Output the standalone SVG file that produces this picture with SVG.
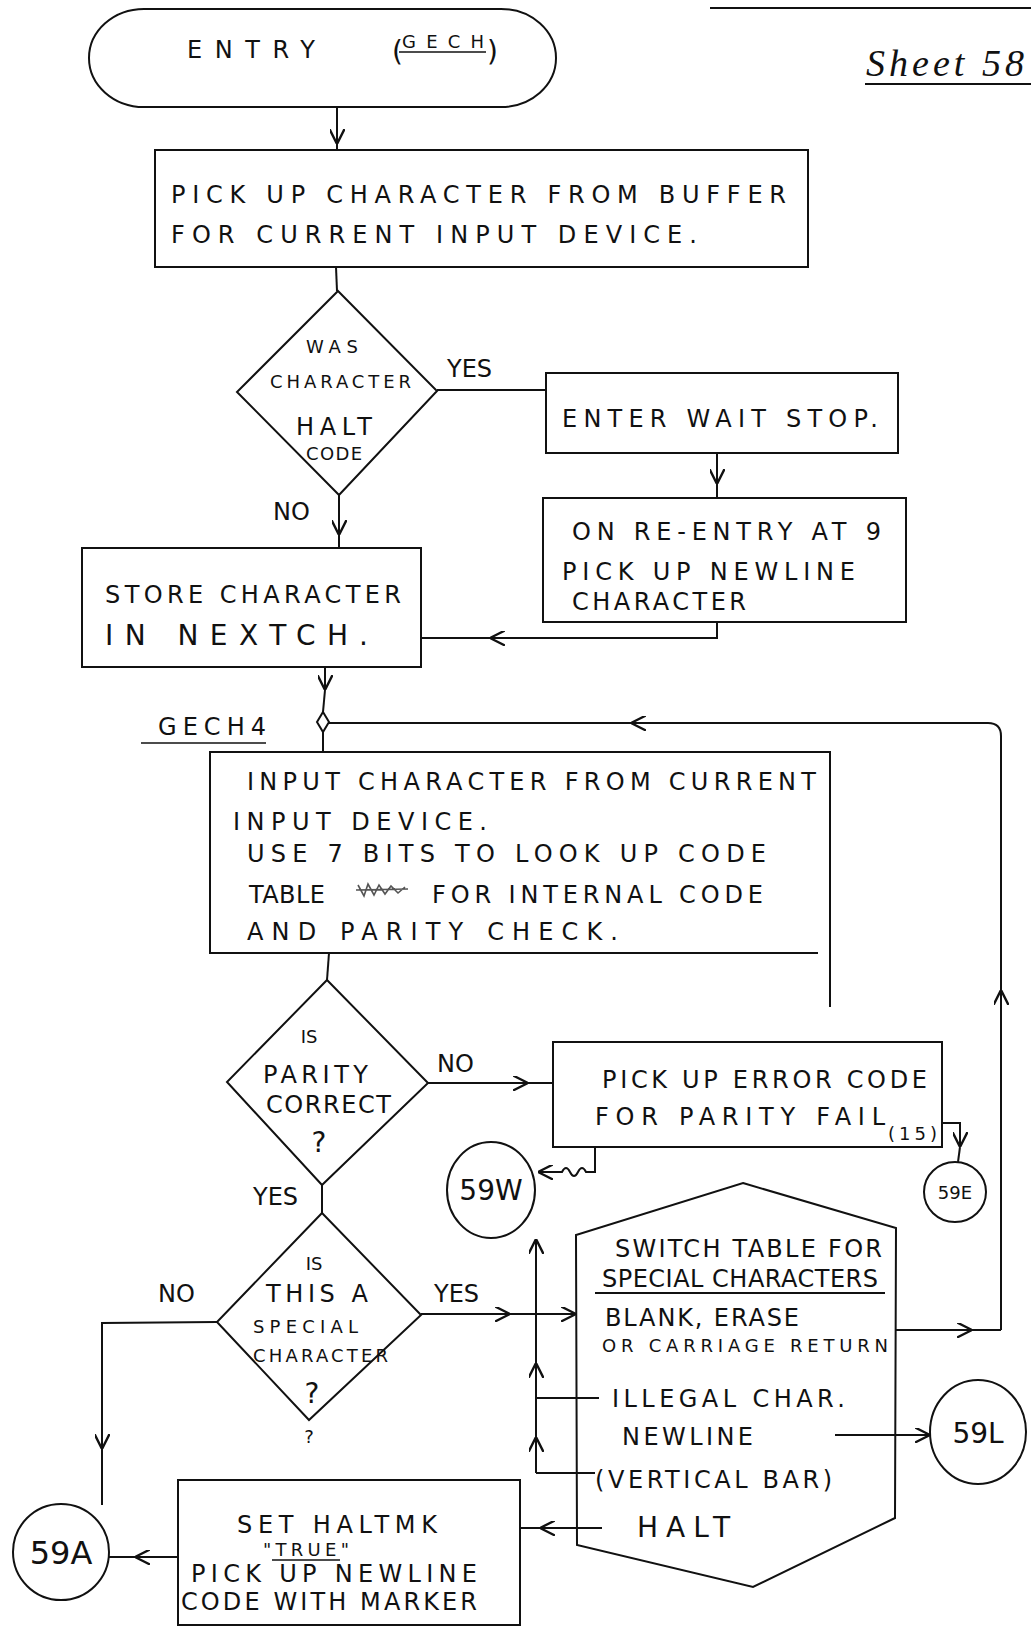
<svg xmlns="http://www.w3.org/2000/svg" width="1031" height="1631" viewBox="0 0 1031 1631">
<defs>
<marker id="arr" viewBox="0 0 10 10" refX="10" refY="5" markerWidth="15" markerHeight="15" markerUnits="userSpaceOnUse" orient="auto">
<path d="M0,0 L10,5 L0,10" fill="none" stroke="#111" stroke-width="1.6"/>
</marker>
</defs>
<style>
.s{fill:none;stroke:#111;stroke-width:2}
.c{fill:none;stroke:#111;stroke-width:2}
.a{marker-end:url(#arr)}
text{font-family:"DejaVu Sans","Liberation Sans",sans-serif;font-size:24px;fill:#111}
.sm{font-size:18px}
.lg{font-size:28px}
.cn{text-anchor:middle}
</style>
<rect width="1031" height="1631" fill="#fff"/>

<g id="sheet">
<line class="s" x1="710" y1="8" x2="1031" y2="8"/>
<text x="866" y="76" textLength="158" lengthAdjust="spacing" style="font-family:'Liberation Serif',serif;font-style:italic;font-size:38px">Sheet 58</text>
<line class="s" x1="865" y1="84" x2="1031" y2="84"/>
</g>

<g id="entry">
<rect class="s" x="89" y="9" width="467" height="98" rx="55" ry="49"/>
<text x="187" y="58" textLength="128" lengthAdjust="spacing">ENTRY</text>
<text x="392" y="61" class="lg">(</text>
<text x="402" y="48" class="sm" textLength="82" lengthAdjust="spacing">GECH</text>
<line class="s" x1="399" y1="52" x2="486" y2="52" style="stroke-width:1.5"/>
<text x="487" y="61" class="lg">)</text>
</g>

<g id="pickup">
<rect class="s" x="155" y="150" width="653" height="117"/>
<text x="171" y="203" textLength="615" lengthAdjust="spacing">PICK UP CHARACTER FROM BUFFER</text>
<text x="171" y="243" textLength="526" lengthAdjust="spacing">FOR CURRENT INPUT DEVICE.</text>
</g>

<g id="halt-decision">
<polygon class="s" points="338,291 437,391 339,495 237,392"/>
<text x="306" y="353" class="sm" textLength="52" lengthAdjust="spacing">WAS</text>
<text x="270" y="388" class="sm" textLength="141" lengthAdjust="spacing">CHARACTER</text>
<text x="296" y="435" textLength="76" lengthAdjust="spacing">HALT</text>
<text x="306" y="460" class="sm" textLength="56" lengthAdjust="spacing">CODE</text>
</g>

<g id="waitstop">
<rect class="s" x="546" y="373" width="352" height="80"/>
<text x="562" y="427" textLength="316" lengthAdjust="spacing">ENTER WAIT STOP.</text>
</g>

<g id="reentry">
<rect class="s" x="543" y="498" width="363" height="124"/>
<text x="572" y="540" textLength="309" lengthAdjust="spacing">ON RE-ENTRY AT 9</text>
<text x="562" y="580" textLength="293" lengthAdjust="spacing">PICK UP NEWLINE</text>
<text x="572" y="610" textLength="174" lengthAdjust="spacing">CHARACTER</text>
</g>

<g id="store">
<rect class="s" x="82" y="548" width="339" height="119"/>
<text x="105" y="603" textLength="296" lengthAdjust="spacing">STORE CHARACTER</text>
<text x="105" y="645" class="lg" textLength="263" lengthAdjust="spacing">IN NEXTCH.</text>
</g>

<g id="gech4">
<polygon class="s" points="323,712 329,722 323,732 317,722"/>
<text x="158" y="735" textLength="108" lengthAdjust="spacing">GECH4</text>
<line class="s" x1="141" y1="743" x2="266" y2="743" style="stroke-width:1.5"/>
</g>

<g id="input">
<path class="s" d="M818,953 L210,953 L210,752 L830,752 L830,1007"/>
<text x="247" y="790" textLength="569" lengthAdjust="spacing">INPUT CHARACTER FROM CURRENT</text>
<text x="233" y="830" textLength="254" lengthAdjust="spacing">INPUT DEVICE.</text>
<text x="247" y="862" textLength="519" lengthAdjust="spacing">USE 7 BITS TO LOOK UP CODE</text>
<text x="249" y="903" textLength="76" lengthAdjust="spacing">TABLE</text>
<path d="M358,885 L364,896 L368,884 L374,895 L379,885 L385,894 L391,886 L398,893 L405,887 M356,890 L408,889" fill="none" stroke="#555" stroke-width="1.6"/>
<text x="432" y="903" textLength="331" lengthAdjust="spacing">FOR INTERNAL CODE</text>
<text x="247" y="940" textLength="371" lengthAdjust="spacing">AND PARITY CHECK.</text>
</g>

<g id="parity-decision">
<polygon class="s" points="327,980 428,1083 322,1185 227,1082"/>
<text x="309" y="1043" class="cn sm">IS</text>
<text x="263" y="1083" textLength="105" lengthAdjust="spacing">PARITY</text>
<text x="266" y="1113" textLength="125" lengthAdjust="spacing">CORRECT</text>
<text x="319" y="1152" class="cn lg">?</text>
</g>

<g id="parityfail">
<rect class="s" x="553" y="1042" width="389" height="105"/>
<text x="602" y="1088" textLength="325" lengthAdjust="spacing">PICK UP ERROR CODE</text>
<text x="595" y="1125" textLength="290" lengthAdjust="spacing">FOR PARITY FAIL</text>
<text x="888" y="1140" class="sm" textLength="49" lengthAdjust="spacing">(15)</text>
</g>

<g id="c59E">
<ellipse class="s" cx="955" cy="1192" rx="31" ry="30"/>
<text x="955" y="1199" class="cn sm">59E</text>
</g>

<g id="c59W">
<ellipse class="s" cx="491" cy="1190" rx="44" ry="48"/>
<text x="491" y="1200" class="cn lg">59W</text>
</g>

<g id="special-decision">
<polygon class="s" points="322,1213 421,1315 309,1420 217,1322"/>
<text x="314" y="1270" class="cn sm">IS</text>
<text x="266" y="1302" textLength="102" lengthAdjust="spacing">THIS A</text>
<text x="253" y="1333" class="sm" textLength="105" lengthAdjust="spacing">SPECIAL</text>
<text x="253" y="1362" class="sm" textLength="135" lengthAdjust="spacing">CHARACTER</text>
<text x="312" y="1403" class="cn lg">?</text>
<text x="309" y="1443" class="cn sm">?</text>
</g>

<g id="switch">
<polygon class="s" points="743,1183 896,1228 895,1518 753,1587 577,1545 576,1235"/>
<line class="s" x1="595" y1="1293" x2="885" y2="1293"/>
<text x="615" y="1257" textLength="267" lengthAdjust="spacing">SWITCH TABLE FOR</text>
<text x="602" y="1287" textLength="276" lengthAdjust="spacing">SPECIAL CHARACTERS</text>
<text x="605" y="1326" textLength="194" lengthAdjust="spacing">BLANK, ERASE</text>
<text x="602" y="1352" class="sm" textLength="286" lengthAdjust="spacing">OR CARRIAGE RETURN</text>
<text x="612" y="1407" textLength="233" lengthAdjust="spacing">ILLEGAL CHAR.</text>
<text x="622" y="1445" textLength="131" lengthAdjust="spacing">NEWLINE</text>
<text x="595" y="1488" textLength="237" lengthAdjust="spacing">(VERTICAL BAR)</text>
<text x="637" y="1537" class="lg" textLength="93" lengthAdjust="spacing">HALT</text>
</g>

<g id="c59L">
<ellipse class="s" cx="978" cy="1432" rx="48" ry="52"/>
<text x="978" y="1443" class="cn lg">59L</text>
</g>

<g id="sethaltmk">
<rect class="s" x="178" y="1480" width="342" height="145"/>
<text x="237" y="1533" textLength="200" lengthAdjust="spacing">SET HALTMK</text>
<text x="263" y="1556" class="sm" textLength="86" lengthAdjust="spacing">"TRUE"</text>
<line class="s" x1="272" y1="1560" x2="340" y2="1560" style="stroke-width:1.5"/>
<text x="191" y="1582" textLength="286" lengthAdjust="spacing">PICK UP NEWLINE</text>
<text x="181" y="1610" textLength="296" lengthAdjust="spacing">CODE WITH MARKER</text>
</g>

<g id="c59A">
<ellipse class="s" cx="61" cy="1552" rx="48" ry="48"/>
<text x="61" y="1564" class="cn" style="font-size:32px">59A</text>
</g>

<g id="labels">
<text x="447" y="377">YES</text>
<text x="273" y="520">NO</text>
<text x="437" y="1072">NO</text>
<text x="253" y="1205">YES</text>
<text x="158" y="1302">NO</text>
<text x="434" y="1302">YES</text>
</g>

<g id="connectors">
<line class="c a" x1="337" y1="107" x2="337" y2="144"/>
<line class="c" x1="337" y1="144" x2="337" y2="150"/>
<line class="c" x1="336" y1="267" x2="337" y2="291"/>
<line class="c" x1="437" y1="390" x2="546" y2="390"/>
<line class="c a" x1="717" y1="453" x2="717" y2="484"/>
<line class="c" x1="717" y1="484" x2="717" y2="498"/>
<polyline class="c a" points="717,622 717,638 490,638"/>
<line class="c" x1="490" y1="638" x2="421" y2="638"/>
<line class="c a" x1="339" y1="495" x2="339" y2="535"/>
<line class="c" x1="339" y1="535" x2="339" y2="548"/>
<line class="c a" x1="325" y1="667" x2="325" y2="690"/>
<line class="c" x1="325" y1="690" x2="323" y2="712"/>
<line class="c" x1="323" y1="732" x2="323" y2="752"/>
<line class="c a" x1="1001" y1="1330" x2="1001" y2="990"/>
<path class="c a" d="M1001,990 L1001,736 Q1001,723 988,723 L631,723"/>
<line class="c" x1="631" y1="723" x2="329" y2="723"/>
<line class="c a" x1="896" y1="1330" x2="972" y2="1330"/>
<line class="c" x1="972" y1="1330" x2="1001" y2="1330"/>
<line class="c" x1="329" y1="953" x2="327" y2="980"/>
<line class="c a" x1="428" y1="1083" x2="528" y2="1083"/>
<line class="c" x1="528" y1="1083" x2="553" y2="1083"/>
<polyline class="c a" points="942,1123 960,1123 960,1147"/>
<line class="c" x1="960" y1="1147" x2="958" y2="1162"/>
<path class="c a" d="M595,1147 L595,1172 L586,1172 Q582,1164 578,1172 Q574,1180 570,1172 Q566,1164 562,1172 L538,1172"/>
<line class="c" x1="322" y1="1185" x2="322" y2="1213"/>
<line class="c a" x1="421" y1="1314" x2="510" y2="1314"/>
<line class="c a" x1="510" y1="1314" x2="576" y2="1314"/>
<polyline class="c a" points="217,1322 102,1323 102,1449"/>
<line class="c" x1="102" y1="1449" x2="102" y2="1505"/>
<line class="c" x1="599" y1="1398" x2="536" y2="1398"/>
<line class="c" x1="595" y1="1473" x2="536" y2="1473"/>
<line class="c a" x1="536" y1="1473" x2="536" y2="1437"/>
<line class="c a" x1="536" y1="1437" x2="536" y2="1363"/>
<line class="c a" x1="536" y1="1363" x2="536" y2="1239"/>
<line class="c a" x1="835" y1="1435" x2="930" y2="1435"/>
<line class="c a" x1="602" y1="1528" x2="540" y2="1528"/>
<line class="c" x1="540" y1="1528" x2="520" y2="1528"/>
<line class="c a" x1="178" y1="1557" x2="135" y2="1557"/>
<line class="c" x1="135" y1="1557" x2="109" y2="1557"/>
</g>
</svg>
